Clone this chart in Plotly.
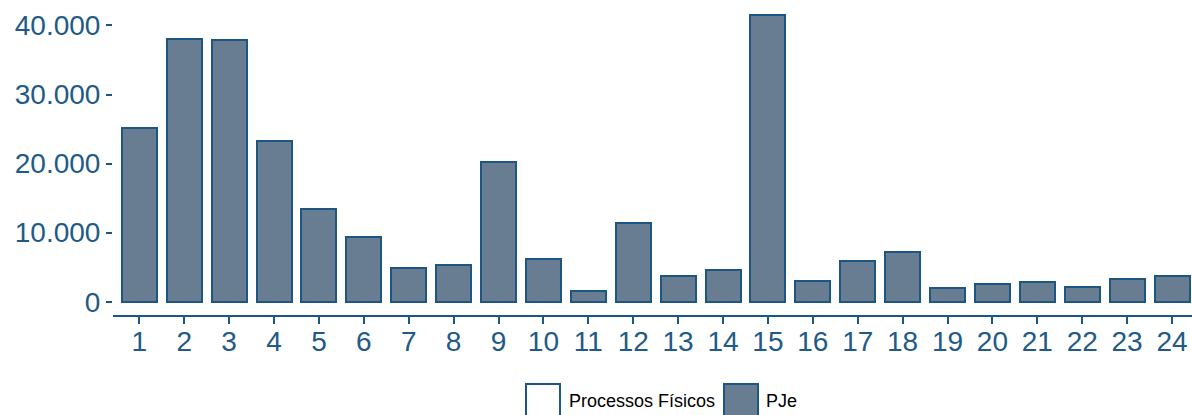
import plotly.graph_objects as go

categories = list(range(1, 25))
tick_labels = [str(c) for c in categories]
pje = [25100, 38000, 37900, 23300, 13400, 9400, 4900, 5300, 20200, 6150,
       1500, 11350, 3750, 4600, 41550, 2950, 5950, 7200, 2000, 2600,
       2850, 2150, 3300, 3750]
fisicos = [0] * 24
series_names = ["Processos Físicos", "PJe"]
y_ticks = [0, 10000, 20000, 30000, 40000]
y_tick_labels = ["0", "10.000", "20.000", "30.000", "40.000"]

BLUE = "#1c5683"
TXT = "#215a86"
FILL = "#687d91"
FONT = "Liberation Sans, Arial, Helvetica, sans-serif"

W, H = 1192, 415
L, R, T, B = 113, 0, 0, 100
pw, ph = W - L - R, H - T - B

fig = go.Figure()
fig.add_trace(go.Bar(x=categories, y=fisicos, name=series_names[0],
                     marker=dict(color="white", line=dict(color=BLUE, width=2)),
                     width=0.78, showlegend=False))
fig.add_trace(go.Bar(x=categories, y=pje, name=series_names[1],
                     marker=dict(color=FILL, line=dict(color=BLUE, width=2)),
                     width=0.78, showlegend=False))

def px_x(p):
    return (p - L) / pw

def px_y(p):
    return (H - B - p) / ph

# manual legend keys
keys = [(526, 560, "white", 567, series_names[0]), (724, 758, FILL, 764, series_names[1])]
for x0, x1, col, tx, label in keys:
    fig.add_shape(type="rect", xref="paper", yref="paper",
                  x0=px_x(x0), x1=px_x(x1), y0=px_y(384), y1=px_y(418),
                  fillcolor=col, line=dict(color=BLUE, width=2))
    fig.add_annotation(xref="paper", yref="paper", x=px_x(tx), y=px_y(401),
                       text=label, showarrow=False, xanchor="left", yanchor="middle",
                       font=dict(family=FONT, size=18, color="black"))

fig.update_layout(
    width=W, height=H, barmode="stack",
    margin=dict(l=L, r=R, t=T, b=B, pad=0, autoexpand=False),
    paper_bgcolor="white", plot_bgcolor="white",
    font=dict(family=FONT, color=TXT),
    xaxis=dict(range=[0.414, 24.445], tickmode="array", tickvals=categories,
               ticktext=tick_labels, showgrid=False, zeroline=False,
               showline=True, linecolor=BLUE, linewidth=2, automargin=False,
               ticks="outside", ticklen=7, tickwidth=2, tickcolor=BLUE,
               ticklabelstandoff=-7,
               tickfont=dict(family=FONT, size=28, color=TXT)),
    yaxis=dict(range=[-1926, 43692], tickmode="array", tickvals=y_ticks,
               ticktext=y_tick_labels, showgrid=False, zeroline=False, automargin=False,
               showline=False, ticks="outside", ticklen=6, tickwidth=2,
               tickcolor=BLUE, tickfont=dict(family=FONT, size=28, color=TXT)),
)

fig.write_html("out.html", config={"displayModeBar": False},
               post_script="document.body.style.margin='0';document.body.style.overflow='hidden';")
